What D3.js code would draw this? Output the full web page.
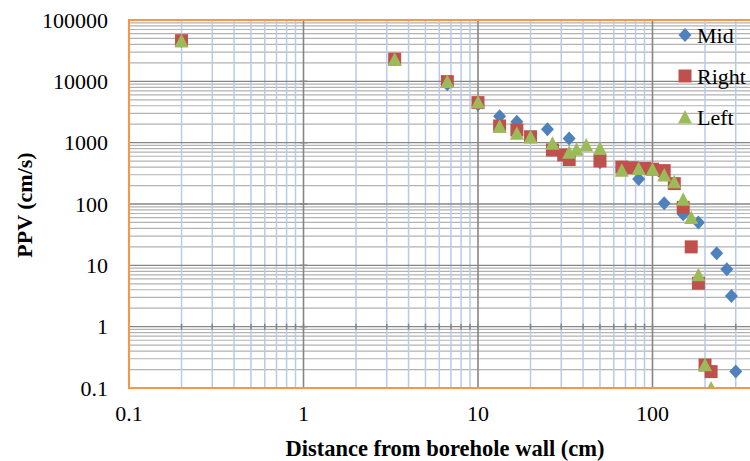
<!DOCTYPE html>
<html lang="en">
<head>
<meta charset="UTF-8">
<title>PPV vs distance</title>
<style>
    body { margin: 0; background: #fff; }
    svg { display: block; font-family: "Liberation Serif", "Times New Roman", serif; }
</style>
</head>
<body>
<svg id="chart" width="750" height="461"></svg>
<script src="https://d3js.org/d3.v7.min.js"></script>
<script>
    // Values
    const midX = [0.2, 3.33, 6.67, 10, 13.3, 16.7, 25, 33.3, 50, 83.3, 116.7, 150, 183.3, 233.3, 266.7, 283.3, 300];
    const midY = [46000, 23000, 9000, 4200, 2700, 2200, 1650, 1170, 480, 255, 103, 68, 50, 15.7, 8.6, 3.16, 0.185];

    const rightX = [0.2, 3.33, 6.67, 10, 13.3, 16.7, 20, 26.7, 31, 33.3, 50, 66.7, 76.7, 90, 100, 116.7, 133.3, 150, 166.7, 183.3, 200, 216.7];
    const rightY = [46000, 23000, 9900, 4500, 1870, 1610, 1250, 760, 630, 530, 505, 400, 390, 380, 370, 350, 215, 88, 20, 5.1, 0.237, 0.185];

    const leftX = [0.2, 3.33, 6.67, 10, 13.3, 16.7, 20, 26.7, 33.3, 36.7, 41.7, 50, 66.7, 83.3, 100, 116.7, 133.3, 150, 166.7, 183.3, 200, 216.7];
    const leftY = [46000, 23000, 9900, 4600, 1850, 1420, 1250, 975, 700, 780, 917, 810, 355, 380, 370, 297, 231, 119, 60, 7, 0.24, 0.1];

    const xTickValues = [0.1, 1, 10, 100];
    const xTickLabels = ["0.1", "1", "10", "100"];
    const yTickValues = [0.1, 1, 10, 100, 1000, 10000, 100000];
    const yTickLabels = ["0.1", "1", "10", "100", "1000", "10000", "100000"];

    const seriesNames = ["Mid", "Right", "Left"];
    const seriesColors = ["#4f81bd", "#c0504d", "#9bbb59"];

    const svg = d3.select("#chart");
    const plotLeft = 129, plotTop = 20, plotBottom = 388;
    const decade = 174.5;

    const x = d3.scaleLog().domain([0.1, 1000]).range([plotLeft, plotLeft + 4 * decade]);
    const y = d3.scaleLog().domain([0.1, 100000]).range([plotBottom, plotTop]);

    const isMajor = v => Math.abs(Math.log10(v) - Math.round(Math.log10(v))) < 1e-9;

    // horizontal grid
    const yGrid = y.ticks().filter(v => v < 100000);
    svg.append("g").selectAll("line")
        .data(yGrid.filter(v => !isMajor(v)))
        .join("line")
        .attr("x1", plotLeft).attr("x2", 750)
        .attr("y1", d => y(d)).attr("y2", d => y(d))
        .attr("stroke", "#b2b2b2").attr("stroke-width", 1.2);

    // vertical grid
    const xGrid = x.ticks();
    svg.append("g").selectAll("line")
        .data(xGrid.filter(v => !isMajor(v)))
        .join("line")
        .attr("x1", d => x(d)).attr("x2", d => x(d))
        .attr("y1", plotTop).attr("y2", plotBottom)
        .attr("stroke", "#b8cbea").attr("stroke-width", 1.5);

    svg.append("g").selectAll("line")
        .data(yGrid.filter(v => isMajor(v)))
        .join("line")
        .attr("x1", plotLeft).attr("x2", 750)
        .attr("y1", d => y(d)).attr("y2", d => y(d))
        .attr("stroke", "#868686").attr("stroke-width", 1.4);

    svg.append("g").selectAll("line")
        .data(xGrid.filter(v => isMajor(v) && v > 0.1))
        .join("line")
        .attr("x1", d => x(d)).attr("x2", d => x(d))
        .attr("y1", plotTop).attr("y2", plotBottom)
        .attr("stroke", "#868686").attr("stroke-width", 1.6);

    // axis tick marks (axes cross at 1)
    svg.append("g").selectAll("line")
        .data(xGrid.filter(v => v > 0.1))
        .join("line")
        .attr("x1", d => x(d)).attr("x2", d => x(d))
        .attr("y1", y(1) - 3).attr("y2", y(1) + 3)
        .attr("stroke", "#868686").attr("stroke-width", 1.5);
    svg.append("g").selectAll("line")
        .data(yTickValues)
        .join("line")
        .attr("x1", x(1) - 4).attr("x2", x(1) + 4)
        .attr("y1", d => y(d)).attr("y2", d => y(d))
        .attr("stroke", "#868686").attr("stroke-width", 1.5);

    // plot border
    svg.append("rect")
        .attr("x", plotLeft).attr("y", plotTop)
        .attr("width", 4 * decade).attr("height", plotBottom - plotTop)
        .attr("fill", "none").attr("stroke", "#f79646").attr("stroke-width", 2);

    // markers
    svg.append("clipPath").attr("id", "plotClip")
        .append("rect").attr("x", plotLeft).attr("y", plotTop - 10)
        .attr("width", 4 * decade).attr("height", plotBottom - plotTop + 10);

    const marks = svg.append("g").attr("clip-path", "url(#plotClip)");
    const diamond = "M0,-7L6.5,0L0,7L-6.5,0Z";
    const square = "M-6.5,-6.5H6.5V6.5H-6.5Z";
    const triangle = "M0,-7L7,6.5H-7Z";
    const shapes = [diamond, square, triangle];

    const series = [d3.zip(midX, midY), d3.zip(rightX, rightY), d3.zip(leftX, leftY)];
    series.forEach((pts, i) => {
        marks.append("g").selectAll("path")
            .data(pts)
            .join("path")
            .attr("d", shapes[i])
            .attr("transform", d => `translate(${x(d[0])},${y(d[1])})`)
            .attr("fill", seriesColors[i]);
    });

    // tick labels
    svg.append("g").selectAll("text")
        .data(yTickValues)
        .join("text")
        .attr("x", 108).attr("y", d => y(d))
        .attr("dy", "0.35em")
        .attr("text-anchor", "end")
        .attr("font-size", 22)
        .text((d, i) => yTickLabels[i]);

    svg.append("g").selectAll("text")
        .data(xTickValues)
        .join("text")
        .attr("x", d => x(d)).attr("y", 413)
        .attr("dy", "0.35em")
        .attr("text-anchor", "middle")
        .attr("font-size", 22)
        .text((d, i) => xTickLabels[i]);

    // axis titles
    svg.append("text")
        .attr("x", 445).attr("y", 448).attr("dy", "0.35em")
        .attr("text-anchor", "middle")
        .attr("font-size", 22.5).attr("font-weight", "bold")
        .text("Distance from borehole wall (cm)");

    svg.append("text")
        .attr("transform", "translate(24,205) rotate(-90)")
        .attr("dy", "0.35em")
        .attr("text-anchor", "middle")
        .attr("font-size", 22).attr("font-weight", "bold")
        .text("PPV (cm/s)");

    // legend
    const legend = svg.append("g");
    seriesNames.forEach((name, i) => {
        const ly = 35 + i * 41;
        legend.append("path").attr("d", shapes[i])
            .attr("transform", `translate(685,${ly})`)
            .attr("fill", seriesColors[i]);
        legend.append("text")
            .attr("x", 697).attr("y", ly).attr("dy", "0.35em")
            .attr("font-size", 22)
            .text(name);
    });
</script>
</body>
</html>
